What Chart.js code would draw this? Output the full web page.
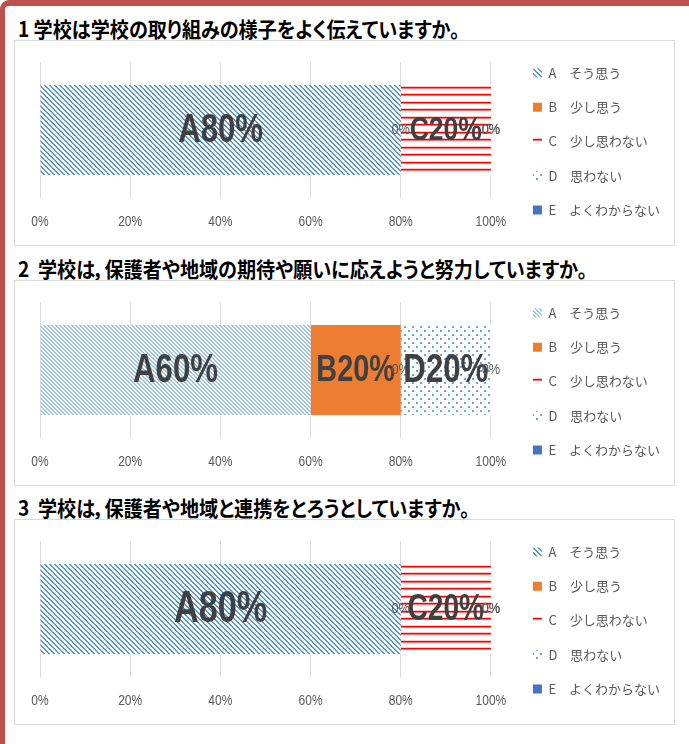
<!DOCTYPE html>
<html lang="ja">
<head>
<meta charset="utf-8">
<script src="https://cdn.jsdelivr.net/npm/chart.js@4/dist/chart.umd.min.js"></script>
<style>
  html, body { margin: 0; padding: 0; background: #fff; }
  body { width: 689px; height: 744px; overflow: hidden; position: relative; }
  #frame { position: absolute; left: 0; top: 0; width: 720px; height: 780px; box-sizing: border-box;
           border-top: 6px solid #C0504D; border-left: 5px solid #C0504D; border-top-left-radius: 9px; }
  .title { position: absolute; left: 18px; white-space: pre; font-family: "Noto Sans CJK JP", sans-serif;
           font-weight: bold; font-size: 21px; line-height: 21px; color: #000;
           font-feature-settings: "palt"; transform-origin: 0 0; transform: scaleX(0.91); }
  .panel { position: absolute; left: 14px; width: 659px; height: 204px; border: 1px solid #D9D9D9; background: #fff; }
  .panel canvas { display: block; }
</style>
</head>
<body>
<div id="frame"></div>
<div id="root"></div>
<script>
// ---- data ----
const codes = ['A', 'B', 'C', 'D', 'E'];
const seriesNames = ['A　そう思う', 'B　少し思う', 'C　少し思わない', 'D　思わない', 'E　よくわからない'];
const titles = [
  '1 学校は学校の取り組みの様子をよく伝えていますか。',
  '2  学校は，保護者や地域の期待や願いに応えようと努力していますか。',
  '3  学校は，保護者や地域と連携をとろうとしていますか。'
];
const q1Values = [80, 0, 20, 0, 0];
const q2Values = [60, 20, 0, 20, 0];
const q3Values = [80, 0, 20, 0, 0];
const questionValues = [q1Values, q2Values, q3Values];
const xTickValues = [0, 20, 40, 60, 80, 100];

// ---- style (label font sizes per chart / series) ----
const labelSizes = [
  [40, 15, 34, 15, 15],
  [40, 37, 15, 40, 15],
  [44, 15, 36, 15, 15]
];

// ---- patterns ----
function tile(w, h, paint) {
  const c = document.createElement('canvas'); c.width = w; c.height = h;
  const g = c.getContext('2d'); g.fillStyle = '#fff'; g.fillRect(0, 0, w, h);
  paint(g); return c;
}
function diagPattern(ctx, color, period, thick) {
  return ctx.createPattern(tile(period, period, g => {
    g.fillStyle = color;
    for (let y = 0; y < period; y++) for (let x = 0; x < period; x++)
      if ((((x - y) % period) + period) % period < thick) g.fillRect(x, y, 1, 1);
  }), 'repeat');
}
function hLinePattern(ctx) {
  return ctx.createPattern(tile(4, 15, g => {
    [[0, '#FFC4C4'], [1, '#FF0000'], [2, '#FF7070'], [7, '#FFC4C4'], [8, '#FF0000'], [9, '#FF7070']]
      .forEach(([y, col]) => { g.fillStyle = col; g.fillRect(0, y, 4, 1); });
  }), 'repeat');
}
function dotPattern(ctx) {
  return ctx.createPattern(tile(8, 8, g => {
    g.fillStyle = '#6AA5DB'; g.fillRect(1, 1, 2, 2); g.fillRect(5, 5, 2, 2);
  }), 'repeat');
}

const segLabels = {
  id: 'segLabels',
  afterDatasetsDraw(chart, args, opts) {
    const ctx = chart.ctx;
    chart.data.datasets.forEach((ds, i) => {
      const el = chart.getDatasetMeta(i).data[0];
      const v = ds.data[0];
      const size = opts.sizes[i];
      ctx.save();
      ctx.textAlign = 'center'; ctx.textBaseline = 'middle';
      if (v > 0) {
        ctx.translate((el.x + el.base) / 2, el.y + 1);
        ctx.scale(0.78, 1);
        ctx.font = 'bold ' + size + 'px "Liberation Sans", Arial, sans-serif';
        ctx.fillStyle = '#404040';
        ctx.fillText(ds.code + v + '%', 0, 0);
      } else {
        ctx.translate(el.x, el.y);
        ctx.scale(0.85, 1);
        ctx.font = size + 'px "Liberation Sans", Arial, sans-serif';
        ctx.fillStyle = '#595959';
        ctx.fillText('0%', 0, 0);
      }
      ctx.restore();
    });
  }
};

// condensed tick labels, placed with the x scale
const condensedTicks = {
  id: 'condensedTicks',
  afterDraw(chart) {
    const ctx = chart.ctx, sx = chart.scales.x;
    sx.ticks.forEach(t => {
      ctx.save();
      ctx.translate(sx.getPixelForValue(t.value), sx.top + 24);
      ctx.scale(0.8, 1);
      ctx.font = '15px "Liberation Sans", Arial, sans-serif';
      ctx.fillStyle = '#595959'; ctx.textAlign = 'center'; ctx.textBaseline = 'middle';
      ctx.fillText(t.value + '%', 0, 0);
      ctx.restore();
    });
  }
};

const root = document.getElementById('root');
questionValues.forEach((vals, qi) => {
  const top = Math.round(40 + 239.5 * qi);
  const t = document.createElement('div');
  t.className = 'title'; t.style.top = (top - 22) + 'px'; t.textContent = titles[qi];
  root.appendChild(t);
  const p = document.createElement('div');
  p.className = 'panel'; p.style.top = top + 'px';
  const cv = document.createElement('canvas'); cv.width = 659; cv.height = 204;
  p.appendChild(cv); root.appendChild(p);
  const ctx = cv.getContext('2d');
  const fills = [
    qi === 1 ? diagPattern(ctx, '#9DC3E6', 4, 2) : diagPattern(ctx, '#5B9BD5', 5, 2),
    '#ED7D31',
    hLinePattern(ctx),
    dotPattern(ctx),
    '#4472C4'
  ];
  const lay = { yW: 20.75 };
  const ch = new Chart(ctx, {
    type: 'bar',
    data: {
      labels: [''],
      datasets: codes.map((c, i) => ({
        label: seriesNames[i], code: c, data: [vals[i]],
        backgroundColor: fills[i], borderWidth: 0,
        barPercentage: 0.66, categoryPercentage: 1
      }))
    },
    options: {
      indexAxis: 'y', responsive: false, animation: false, events: [],
      layout: { padding: { left: 25, top: 0, right: 9.4, bottom: 3 } },
      scales: {
        x: {
          type: 'linear', stacked: true, min: 0, max: 100,
          afterBuildTicks: s => { s.ticks = xTickValues.map(v => ({ value: v })); },
          afterFit: s => { s.height = 44; },
          ticks: { display: false },
          grid: { color: '#D9D9D9', drawTicks: false },
          border: { display: false }
        },
        y: {
          type: 'category', stacked: true, position: 'right',
          afterFit: s => { s.width = lay.yW; },
          ticks: { display: false }, grid: { display: false }, border: { display: false }
        }
      },
      plugins: {
        tooltip: { enabled: false },
        title: { display: true, text: ' ', font: { size: 10, lineHeight: 1 }, padding: { top: 0, bottom: 11 } },
        segLabels: { sizes: labelSizes[qi] },
        legend: {
          position: 'right', align: 'center',
          labels: { boxWidth: 9, boxHeight: 9, padding: 21.25, color: '#595959',
                    font: { size: 13, family: '"Noto Sans CJK JP", sans-serif' } }
        }
      }
    },
    plugins: [segLabels, condensedTicks]
  });
  // keep the plot right edge at the same place as the reference (canvas x = 477)
  const diff = ch.chartArea.right - 477;
  if (Math.abs(diff) > 0.1) {
    ch.options.layout.padding.right += diff;
    ch.update();
  }
});
</script>
</body>
</html>
